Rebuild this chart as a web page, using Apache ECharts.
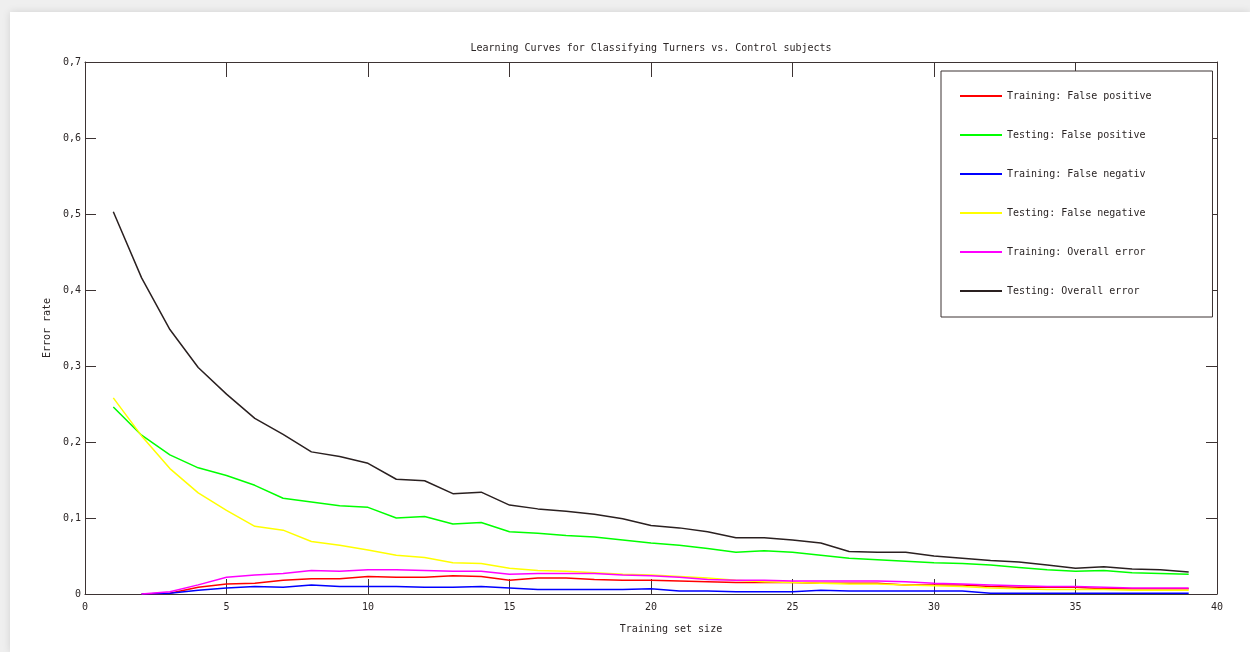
<!DOCTYPE html>
<html>
<head>
<meta charset="utf-8">
<script src="https://cdn.jsdelivr.net/npm/echarts@6/dist/echarts.min.js"></script>
<style>
  html, body { margin: 0; padding: 0; background: #efefef; }
  #chart {
    position: absolute; left: 10px; top: 12px;
    width: 1240px; height: 640px;
    background: #fff;
    box-shadow: 0 0 8px rgba(0, 0, 0, 0.12);
  }
</style>
</head>
<body>
<div id="chart"></div>
<script>
  // training set sizes 1..39
  const sizes = [1, 2, 3, 4, 5, 6, 7, 8, 9, 10, 11, 12, 13, 14, 15, 16, 17, 18, 19, 20,
    21, 22, 23, 24, 25, 26, 27, 28, 29, 30, 31, 32, 33, 34, 35, 36, 37, 38, 39];

  const trainFalsePos = [null, 0, 0.001, 0.009, 0.013, 0.014, 0.018, 0.020, 0.020, 0.023,
    0.022, 0.022, 0.024, 0.023, 0.018, 0.021, 0.021, 0.019, 0.018, 0.018,
    0.017, 0.016, 0.015, 0.015, 0.015, 0.014, 0.014, 0.014, 0.012, 0.012,
    0.012, 0.010, 0.009, 0.009, 0.009, 0.007, 0.007, 0.007, 0.007];
  const testFalsePos = [0.246, 0.209, 0.183, 0.166, 0.156, 0.143, 0.126, 0.121, 0.116, 0.114,
    0.100, 0.102, 0.092, 0.094, 0.082, 0.080, 0.077, 0.075, 0.071, 0.067,
    0.064, 0.060, 0.055, 0.057, 0.055, 0.051, 0.047, 0.045, 0.043, 0.041,
    0.040, 0.038, 0.035, 0.032, 0.030, 0.031, 0.028, 0.027, 0.026];
  const trainFalseNeg = [null, 0, 0.001, 0.005, 0.008, 0.010, 0.009, 0.012, 0.010, 0.010,
    0.010, 0.009, 0.009, 0.010, 0.008, 0.006, 0.006, 0.006, 0.006, 0.007,
    0.004, 0.004, 0.003, 0.003, 0.003, 0.005, 0.004, 0.004, 0.004, 0.004,
    0.004, 0.001, 0.001, 0.001, 0.001, 0.001, 0.001, 0.001, 0.001];
  const testFalseNeg = [0.258, 0.208, 0.165, 0.133, 0.110, 0.089, 0.084, 0.069, 0.064, 0.058,
    0.051, 0.048, 0.041, 0.040, 0.034, 0.031, 0.030, 0.028, 0.026, 0.025,
    0.023, 0.021, 0.018, 0.016, 0.015, 0.014, 0.013, 0.013, 0.012, 0.011,
    0.010, 0.008, 0.007, 0.006, 0.006, 0.006, 0.005, 0.005, 0.005];
  const trainOverall = [null, 0, 0.003, 0.012, 0.022, 0.025, 0.027, 0.031, 0.030, 0.032,
    0.032, 0.031, 0.030, 0.030, 0.026, 0.027, 0.027, 0.027, 0.025, 0.024,
    0.022, 0.019, 0.018, 0.018, 0.017, 0.017, 0.017, 0.017, 0.016, 0.014,
    0.013, 0.012, 0.011, 0.010, 0.010, 0.009, 0.008, 0.008, 0.008];
  const testOverall = [0.503, 0.416, 0.348, 0.298, 0.263, 0.231, 0.210, 0.187, 0.181, 0.172,
    0.151, 0.149, 0.132, 0.134, 0.117, 0.112, 0.109, 0.105, 0.099, 0.090,
    0.087, 0.082, 0.074, 0.074, 0.071, 0.067, 0.056, 0.055, 0.055, 0.050,
    0.047, 0.044, 0.042, 0.038, 0.034, 0.036, 0.033, 0.032, 0.029];

  const seriesNames = [
    'Training: False positive',
    'Testing: False positive',
    'Training: False negativ',
    'Testing: False negative',
    'Training: Overall error',
    'Testing: Overall error',
  ];
  const seriesValues = [trainFalsePos, testFalsePos, trainFalseNeg, testFalseNeg, trainOverall, testOverall];
  const seriesColors = ['#ff0000', '#00ff00', '#0000ff', '#ffff00', '#ff00ff', '#2a2020'];

  const xTicks = { min: 0, max: 40, interval: 5 };
  const yTicks = { min: 0, max: 0.7, interval: 0.1 };

  const axisColor = '#3d3333';
  const textColor = '#2b2525';
  const font = 'DejaVu Sans Mono';

  const chart = echarts.init(document.getElementById('chart'));

  const fmtY = (v) => (v === 0 ? '0' : v.toFixed(1).replace('.', ','));

  // matlab-style box: same axis on both sides, ticks pointing in
  const boxLine = { show: true, onZero: false, lineStyle: { color: axisColor, width: 1 } };
  const xTick = { show: true, inside: true, length: 15, lineStyle: { color: axisColor } };
  const yTick = { show: true, inside: true, length: 11, lineStyle: { color: axisColor } };

  const option = {
    animation: false,
    textStyle: { fontFamily: font },
    title: {
      text: 'Learning Curves for Classifying Turners vs. Control subjects',
      left: 636,
      textAlign: 'center',
      top: 26,
      textStyle: { fontFamily: font, fontSize: 10, fontWeight: 'normal', color: textColor },
    },
    grid: { left: 75, right: 33, top: 50, bottom: 58 },
    legend: {
      orient: 'vertical',
      left: 931,
      top: 59,
      padding: [20, 61, 21, 19],
      itemGap: 29,
      itemWidth: 42,
      itemHeight: 2,
      icon: 'rect',
      borderColor: axisColor,
      borderWidth: 1,
      backgroundColor: '#fff',
      textStyle: { fontFamily: font, fontSize: 10, color: textColor },
      data: seriesNames,
    },
    xAxis: [
      {
        type: 'value',
        min: xTicks.min, max: xTicks.max, interval: xTicks.interval,
        name: 'Training set size',
        nameLocation: 'middle',
        nameGap: 30,
        nameTextStyle: { fontFamily: font, fontSize: 10, color: textColor, padding: [0, 0, 0, 40] },
        axisLine: boxLine,
        axisTick: xTick,
        axisLabel: { color: textColor, fontSize: 10, margin: 8 },
        splitLine: { show: false },
      },
      {
        type: 'value', position: 'top',
        min: xTicks.min, max: xTicks.max, interval: xTicks.interval,
        axisLine: boxLine,
        axisTick: xTick,
        axisLabel: { show: false },
        splitLine: { show: false },
      },
    ],
    yAxis: [
      {
        type: 'value',
        min: yTicks.min, max: yTicks.max, interval: yTicks.interval,
        name: 'Error rate',
        nameLocation: 'middle',
        nameGap: 26,
        nameTextStyle: { fontFamily: font, fontSize: 10, color: textColor },
        axisLine: boxLine,
        axisTick: yTick,
        axisLabel: { color: textColor, fontSize: 10, margin: 4, formatter: fmtY },
        splitLine: { show: false },
      },
      {
        type: 'value', position: 'right',
        min: yTicks.min, max: yTicks.max, interval: yTicks.interval,
        axisLine: boxLine,
        axisTick: yTick,
        axisLabel: { show: false },
        splitLine: { show: false },
      },
    ],
    series: seriesNames.map((name, i) => {
      // last series sits on the mirrored top/right axes (same scale)
      const mirrored = i === seriesNames.length - 1 ? 1 : 0;
      return {
        name,
        type: 'line',
        xAxisIndex: mirrored,
        yAxisIndex: mirrored,
        showSymbol: false,
        symbol: 'none',
        color: seriesColors[i],
        lineStyle: { width: 1.5, color: seriesColors[i] },
        data: sizes.map((s, j) => [s, seriesValues[i][j]]),
        z: 2 + i,
      };
    }),
  };

  chart.setOption(option);
</script>
</body>
</html>
